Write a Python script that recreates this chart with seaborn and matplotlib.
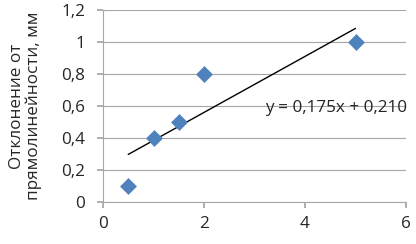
import matplotlib
matplotlib.use("Agg")
import matplotlib.pyplot as plt
import seaborn as sns
import numpy as np
import pandas as pd

x_vals = [0.5, 1.0, 1.5, 2.0, 5.0]
y_vals = [0.1, 0.4, 0.5, 0.8, 1.0]
slope = 0.175
intercept = 0.210
x_ticks = [0, 2, 4, 6]
y_ticks = [0, 0.2, 0.4, 0.6, 0.8, 1.0, 1.2]
y_label = "Отклонение от\nпрямолинейности, мм"
eq_text = "y = 0,175x + 0,210"

sns.set_theme(style="white")
plt.rcParams['font.family'] = ['Open Sans', 'DejaVu Sans']

fs = 12.3
fig = plt.figure(figsize=(4.16, 2.44), dpi=100)
ax = fig.add_axes([0.2476, 0.172, 0.7284, 0.787])

df = pd.DataFrame({"x": x_vals, "y": y_vals})
sns.scatterplot(data=df, x="x", y="y", marker="D", s=65, color="#4F81BD",
                edgecolor="#4F81BD", linewidth=0.5, ax=ax, zorder=3)

xl = np.array([min(x_vals), max(x_vals)])
sns.lineplot(x=xl, y=slope * xl + intercept, color="black", linewidth=1.0, ax=ax, zorder=2)

ax.set_xlim(0, 6)
ax.set_ylim(0, 1.2)
ax.set_xticks(x_ticks)
ax.set_yticks(y_ticks)
ax.set_xticklabels([str(t) for t in x_ticks])
ax.set_yticklabels([("%g" % t).replace(".", ",") for t in y_ticks])
ax.yaxis.grid(True, color="#A6A6A6", linewidth=0.8)
ax.set_axisbelow(True)
for s in ["top", "right"]:
    ax.spines[s].set_visible(False)
for s in ["left", "bottom"]:
    ax.spines[s].set_color("#A6A6A6")
    ax.spines[s].set_linewidth(0.8)
ax.tick_params(axis="x", which="both", bottom=True, length=4, color="#A6A6A6", labelsize=fs, pad=6)
ax.tick_params(axis="y", which="both", left=True, length=4, color="#A6A6A6", labelsize=fs, pad=9)
ax.set_xlabel("")
ax.set_ylabel(y_label, fontsize=fs, labelpad=14, linespacing=1.0)
ax.text(3.2, 0.59, eq_text, fontsize=fs, ha="left", va="center", zorder=4)

fig.savefig("out.png", dpi=100)
